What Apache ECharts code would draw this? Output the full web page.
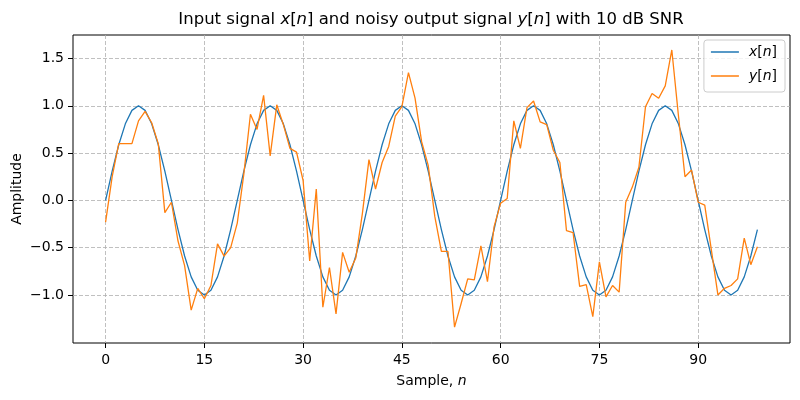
<!DOCTYPE html>
<html>
<head>
<meta charset="utf-8">
<script src="https://cdn.jsdelivr.net/npm/echarts@6/dist/echarts.min.js"></script>
<style>html,body{margin:0;padding:0;background:#fff}#c{width:800px;height:400px}</style>
</head>
<body>
<div id="c"></div>
<script>
// Input signal x[n]
const xSignal = [
 0, 0.309, 0.588, 0.809, 0.951, 1, 0.951, 0.809, 0.588, 0.309,
 0, -0.309, -0.588, -0.809, -0.951, -1, -0.951, -0.809, -0.588, -0.309,
 0, 0.309, 0.588, 0.809, 0.951, 1, 0.951, 0.809, 0.588, 0.309,
 0, -0.309, -0.588, -0.809, -0.951, -1, -0.951, -0.809, -0.588, -0.309,
 0, 0.309, 0.588, 0.809, 0.951, 1, 0.951, 0.809, 0.588, 0.309,
 0, -0.309, -0.588, -0.809, -0.951, -1, -0.951, -0.809, -0.588, -0.309,
 0, 0.309, 0.588, 0.809, 0.951, 1, 0.951, 0.809, 0.588, 0.309,
 0, -0.309, -0.588, -0.809, -0.951, -1, -0.951, -0.809, -0.588, -0.309,
 0, 0.309, 0.588, 0.809, 0.951, 1, 0.951, 0.809, 0.588, 0.309,
 0, -0.309, -0.588, -0.809, -0.951, -1, -0.951, -0.809, -0.588, -0.309
];
// Noisy output y[n]
const ySignal = [
 -0.23, 0.25, 0.60, 0.60, 0.60, 0.84, 0.94, 0.82, 0.60, -0.13,
 -0.02, -0.43, -0.69, -1.16, -0.93, -1.04, -0.90, -0.46, -0.59, -0.50,
 -0.24, 0.28, 0.91, 0.75, 1.11, 0.47, 1.01, 0.80, 0.55, 0.51,
 0.21, -0.64, 0.12, -1.13, -0.71, -1.20, -0.55, -0.76, -0.61, -0.14,
 0.43, 0.12, 0.40, 0.57, 0.89, 0.99, 1.35, 1.08, 0.62, 0.37,
 -0.17, -0.54, -0.54, -1.34, -1.09, -0.83, -0.84, -0.48, -0.86, -0.28,
 -0.03, 0.02, 0.84, 0.55, 0.98, 1.05, 0.83, 0.80, 0.53, 0.40,
 -0.32, -0.34, -0.91, -0.89, -1.23, -0.65, -1.02, -0.90, -0.97, -0.02,
 0.14, 0.35, 0.99, 1.13, 1.08, 1.21, 1.59, 0.90, 0.25, 0.32,
 -0.02, -0.05, -0.52, -1.00, -0.93, -0.90, -0.83, -0.40, -0.68, -0.49
];
const xTicks = [0, 15, 30, 45, 60, 75, 90];
const yTicks = [-1.0, -0.5, 0.0, 0.5, 1.0, 1.5];

const FONT = 'DejaVu Sans';
const fmtY = v => v.toFixed(1).replace('-', '\u2212');
const chart = echarts.init(document.getElementById('c'), null, {renderer: 'canvas'});
const gridStyle = {color: '#b0b0b0', width: 0.8, type: [4, 2]};
chart.setOption({
  animation: false,
  backgroundColor: '#fff',
  textStyle: {fontFamily: FONT},
  grid: {left: 73, right: 10, top: 35, bottom: 57, show: true, borderColor: '#000', borderWidth: 1,
         backgroundColor: 'transparent', containLabel: false, outerBoundsMode: 'none'},
  graphic: [{
    type: 'text', x: 431, y: 20,
    style: {
      text: 'Input signal {i|x}[{i|n}] and noisy output signal {i|y}[{i|n}] with 10 dB SNR',
      align: 'center', verticalAlign: 'middle',
      fontFamily: FONT, fontSize: 16.5, fill: '#000',
      rich: {i: {fontStyle: 'italic', fontFamily: FONT, fontSize: 16.5}}
    }
  }, {
    type: 'text', x: 17, y: 189, rotation: Math.PI / 2,
    style: {text: 'Amplitude', align: 'center', verticalAlign: 'middle',
      fontFamily: FONT, fontSize: 14, fill: '#000'}
  }],
  legend: {
    right: 15, top: 40, orient: 'vertical',
    padding: [5, 8, 9, 7], itemGap: 10,
    itemWidth: 28, itemHeight: 1.5, icon: 'rect',
    borderColor: '#cccccc', borderWidth: 1, borderRadius: 3,
    backgroundColor: 'rgba(255,255,255,0.8)',
    formatter: name => name === 'x[n]' ? '{i|x}[{i|n}]' : '{i|y}[{i|n}]',
    textStyle: {fontFamily: FONT, fontSize: 14, color: '#000', padding: [0, 0, 0, 5],
      rich: {i: {fontStyle: 'italic', fontFamily: FONT, fontSize: 14}}},
    data: ['x[n]', 'y[n]']
  },
  xAxis: {
    type: 'value', min: -4.95, max: 103.95,
    name: '{r|Sample, }{i|n}', nameLocation: 'middle', nameGap: 31,
    nameTextStyle: {fontFamily: FONT, fontSize: 14, color: '#000',
      rich: {r: {fontFamily: FONT, fontSize: 14}, i: {fontFamily: FONT, fontSize: 14, fontStyle: 'italic'}}},
    axisLine: {show: false, onZero: false},
    axisTick: {show: true, customValues: xTicks, length: 5, lineStyle: {color: '#000', width: 1}},
    axisLabel: {customValues: xTicks, margin: 10, fontFamily: FONT, fontSize: 14, color: '#000'},
    splitLine: {show: true, lineStyle: gridStyle}
  },
  yAxis: {
    type: 'value', min: -1.508, max: 1.748,
    axisLine: {show: false, onZero: false},
    axisTick: {show: true, customValues: yTicks, length: 5, lineStyle: {color: '#000', width: 1}},
    axisLabel: {customValues: yTicks, margin: 9, fontFamily: FONT, fontSize: 14, color: '#000', formatter: fmtY},
    splitLine: {show: true, lineStyle: gridStyle}
  },
  series: [
    {name: 'x[n]', type: 'line', data: xSignal.map((v, i) => [i, v]), showSymbol: false, symbol: 'none',
     lineStyle: {color: '#1f77b4', width: 1.3}, itemStyle: {color: '#1f77b4'}, z: 2},
    {name: 'y[n]', type: 'line', data: ySignal.map((v, i) => [i, v]), showSymbol: false, symbol: 'none',
     lineStyle: {color: '#ff7f0e', width: 1.3}, itemStyle: {color: '#ff7f0e'}, z: 3}
  ]
});
</script>
</body>
</html>
